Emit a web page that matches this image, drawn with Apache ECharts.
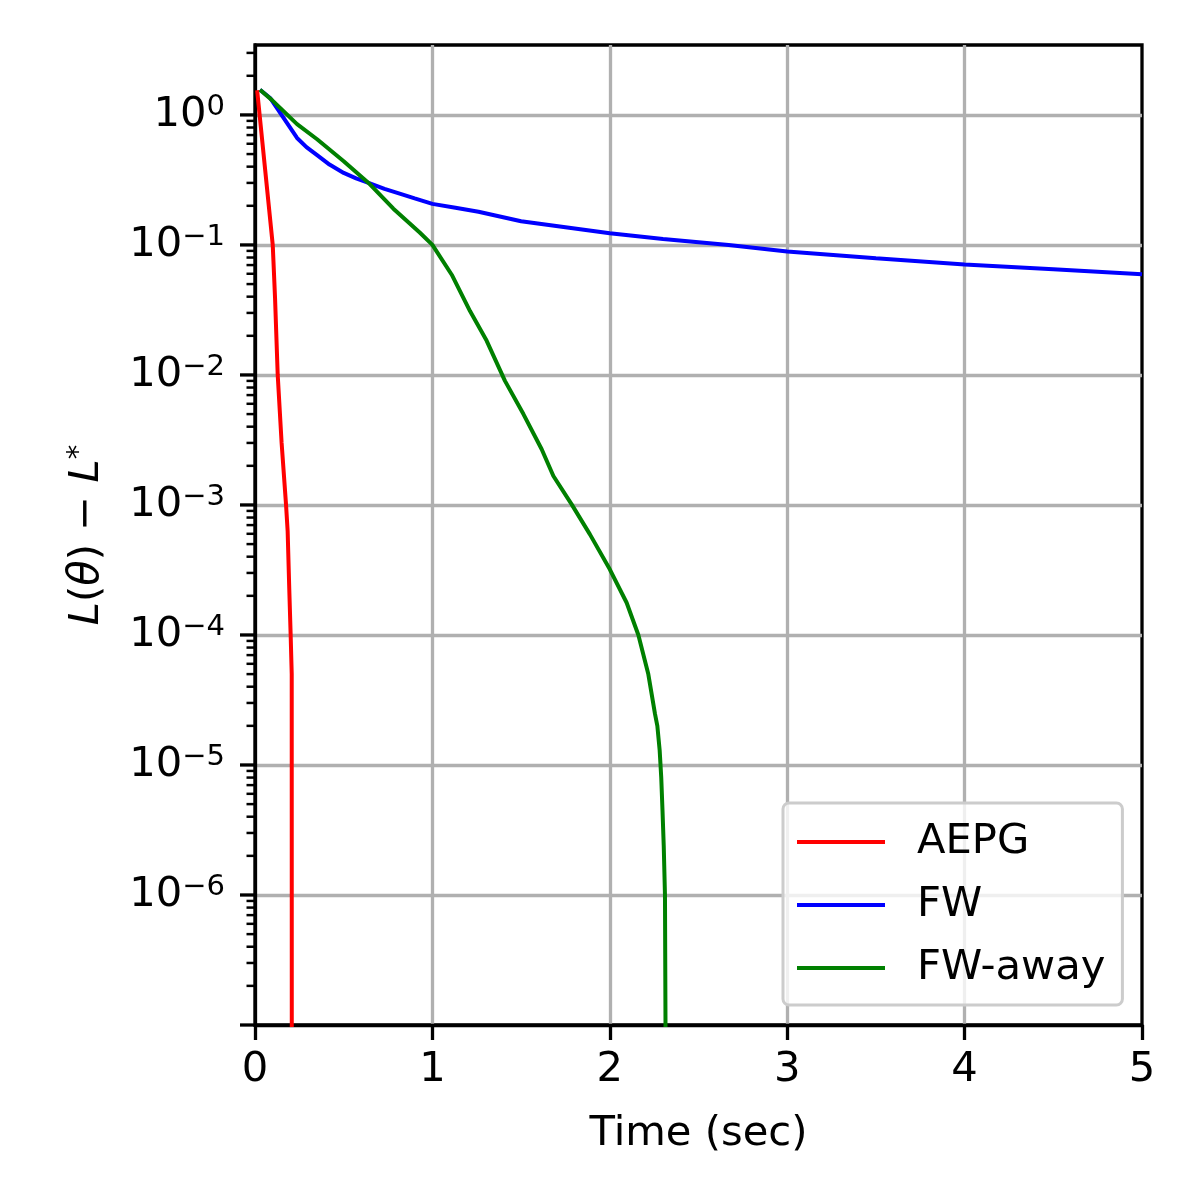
<!DOCTYPE html>
<html>
<head>
<meta charset="utf-8">
<script src="https://cdn.jsdelivr.net/npm/echarts@6/dist/echarts.min.js"></script>
<style>html,body{margin:0;padding:0;background:#fff}#c{width:1200px;height:1200px}</style>
</head>
<body>
<div id="c"></div>
<script>
// ---- data ----
const aepgTime = [0.012, 0.1, 0.104, 0.113, 0.128, 0.15, 0.175, 0.184, 0.193, 0.201, 0.207, 0.208];
const aepgGap  = [1.55, 0.1, 0.075, 0.039, 0.01, 0.003, 0.001, 6.3e-4, 2.3e-4, 1e-4, 5e-5, 1e-12];

const fwTime = [0.028, 0.085, 0.237, 0.29, 0.35, 0.42, 0.5, 0.57, 0.64, 0.73, 0.82, 0.9, 1.0, 1.13, 1.26, 1.5, 1.75, 2.0, 2.3, 2.67, 3.0, 3.5, 4.0, 4.5, 5.0];
const fwGap  = [1.56, 1.35, 0.665, 0.565, 0.49, 0.415, 0.358, 0.325, 0.30, 0.27, 0.247, 0.228, 0.207, 0.193, 0.18, 0.152, 0.137, 0.123, 0.111, 0.1, 0.089, 0.079, 0.0707, 0.065, 0.0595];

const awayTime = [0.028, 0.096, 0.237, 0.35, 0.5, 0.64, 0.78, 0.93, 1.0, 1.109, 1.212, 1.306, 1.409, 1.513, 1.616, 1.682, 1.785, 1.888, 2.0, 2.095, 2.161, 2.217, 2.255, 2.268, 2.281, 2.29, 2.297, 2.304, 2.311, 2.314, 2.316];
const awayGap  = [1.56, 1.30, 0.85, 0.65, 0.44, 0.30, 0.19, 0.124, 0.1, 0.059, 0.031, 0.0183, 0.009, 0.005, 0.00268, 0.00167, 0.00101, 0.000594, 0.00032, 1.77e-4, 1e-4, 5e-5, 2.46e-5, 2.0e-5, 1.3e-5, 8e-6, 4.5e-6, 2.4e-6, 1e-6, 1e-7, 1e-10];

const seriesNames = ['AEPG', 'FW', 'FW-away'];
const xTicks = [0, 1, 2, 3, 4, 5];
const yTickExps = [0, -1, -2, -3, -4, -5, -6];
const yDecades = [-7, -6, -5, -4, -3, -2, -1, 0];
const minorMultipliers = [2, 3, 4, 5, 6, 7, 8, 9];
const yMin = 1e-7, yMax = 3.45;

// ---- build ----
const zip = (a, b) => a.map((v, i) => [v, b[i]]);
const FONT = 'DejaVu Sans';
const FS = 41.7;

const tickData = [];
yDecades.forEach(e => {
  tickData.push([0, Math.pow(10, e), 1]);
  minorMultipliers.forEach(m => {
    const v = m * Math.pow(10, e);
    if (v <= yMax) tickData.push([0, v, 0]);
  });
});

const sup = s => String(s).replace('-', '\u2212');

const chart = echarts.init(document.getElementById('c'), null, {renderer: 'canvas'});
chart.setOption({
  backgroundColor: '#ffffff',
  animation: false,
  grid: {left: 255, right: 58, top: 45, bottom: 175, show: true, borderColor: '#000', borderWidth: 3.3, backgroundColor: 'transparent'},
  legend: {
    data: seriesNames,
    orient: 'vertical',
    left: 783, top: 803,
    padding: [15, 17, 13, 14],
    itemGap: 15,
    itemWidth: 88, itemHeight: 4,
    icon: 'rect',
    backgroundColor: 'rgba(255,255,255,0.8)',
    borderColor: '#cccccc', borderWidth: 3, borderRadius: 6,
    textStyle: {fontFamily: FONT, fontSize: FS, color: '#000', lineHeight: 48, padding: [0, 0, 0, 27]}
  },
  xAxis: {
    type: 'value', min: 0, max: 5, interval: 1,
    name: 'Time (sec)', nameLocation: 'middle', nameGap: 88,
    nameTextStyle: {fontFamily: FONT, fontSize: FS, color: '#000'},
    axisLine: {show: true, lineStyle: {color: '#000', width: 3.3}},
    axisTick: {show: true, length: 15, inside: false, lineStyle: {color: '#000', width: 3.3}},
    axisLabel: {margin: 24, fontFamily: FONT, fontSize: FS, color: '#000',
      formatter: v => xTicks.indexOf(v) >= 0 ? String(v) : ''},
    splitLine: {show: true, showMinLine: false, showMaxLine: false, lineStyle: {color: '#b0b0b0', width: 3.3}}
  },
  yAxis: {
    type: 'log', logBase: 10, min: yMin, max: yMax, splitNumber: 8,
    name: '{i|L}{n|(}{i|\u03B8}{n|) \u2212 }{i|L}{s|*}',
    nameLocation: 'middle', nameRotate: 90, nameGap: 146,
    nameTextStyle: {
      fontFamily: FONT, fontSize: FS, color: '#000',
      rich: {
        i: {fontFamily: FONT, fontSize: FS, fontStyle: 'italic', color: '#000', lineHeight: 44},
        n: {fontFamily: FONT, fontSize: FS, color: '#000', lineHeight: 44},
        s: {fontFamily: FONT, fontSize: 29, color: '#000', verticalAlign: 'top', lineHeight: 29}
      }
    },
    axisLine: {show: true, lineStyle: {color: '#000', width: 3.3}},
    axisTick: {show: false},
    minorTick: {show: false},
    axisLabel: {
      margin: 30, fontFamily: FONT, fontSize: FS, color: '#000',
      formatter: function (v) {
        const l = Math.log10(v);
        const e = Math.round(l);
        if (Math.abs(l - e) > 1e-6 || yTickExps.indexOf(e) < 0) return '';
        return '{b|10}{s|' + sup(e) + '}';
      },
      rich: {
        b: {fontFamily: FONT, fontSize: FS, color: '#000', lineHeight: 44},
        s: {fontFamily: FONT, fontSize: 29, color: '#000', verticalAlign: 'top', lineHeight: 22}
      }
    },
    splitLine: {show: true, showMinLine: false, showMaxLine: false, lineStyle: {color: '#b0b0b0', width: 3.3}}
  },
  series: [
    {name: 'AEPG', type: 'line', data: zip(aepgTime, aepgGap), showSymbol: false, symbol: 'none', lineStyle: {color: '#ff0000', width: 4}, itemStyle: {color: '#ff0000'}, clip: true, z: 3},
    {name: 'FW', type: 'line', data: zip(fwTime, fwGap), showSymbol: false, symbol: 'none', lineStyle: {color: '#0000ff', width: 4}, itemStyle: {color: '#0000ff'}, clip: true, z: 3},
    {name: 'FW-away', type: 'line', data: zip(awayTime, awayGap), showSymbol: false, symbol: 'none', lineStyle: {color: '#008000', width: 4}, itemStyle: {color: '#008000'}, clip: true, z: 3},
    {
      name: 'yticks', type: 'custom', data: tickData, clip: false, silent: true, z: 4,
      renderItem: function (params, api) {
        const major = api.value(2) === 1;
        const p = api.coord([api.value(0), api.value(1)]);
        const len = major ? 15 : 8.5;
        return {type: 'line', shape: {x1: p[0] - len, y1: p[1], x2: p[0], y2: p[1]},
          style: {stroke: '#000', lineWidth: major ? 3.3 : 2.5}};
      }
    }
  ]
});
</script>
</body>
</html>
